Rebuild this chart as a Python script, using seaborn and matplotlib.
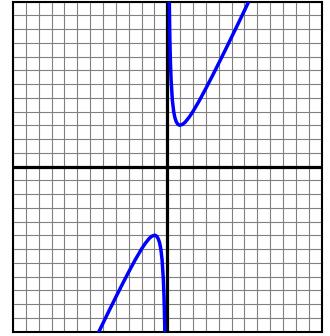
import matplotlib
matplotlib.use('Agg')
import matplotlib.pyplot as plt
import seaborn as sns
import numpy as np
import pandas as pd

# right branch (x > 0)
x_right = [0.15, 0.2, 0.25, 0.3, 0.4, 0.5, 0.6, 0.7, 0.8, 0.9, 1.0, 1.2, 1.4,
           1.7, 2.0, 2.5, 3.0, 3.5, 4.0, 4.5, 5.0, 5.5, 6.0, 6.5]
y_right = [12.63, 9.4, 7.5, 6.27, 4.8, 4.0, 3.53, 3.26, 3.1, 3.02, 3.0, 3.07, 3.23,
           3.58, 4.0, 4.8, 5.67, 6.57, 7.5, 8.44, 9.4, 10.36, 11.33, 12.31]

# left branch (x < 0)
x_left = [-5.5, -5.0, -4.5, -4.0, -3.5, -3.0, -2.5, -2.0, -1.7, -1.4, -1.2, -1.0,
          -0.9, -0.8, -0.7, -0.6, -0.5, -0.4, -0.3, -0.25, -0.2, -0.15]
y_left = [-12.36, -11.4, -10.44, -9.5, -8.57, -7.67, -6.8, -6.0, -5.58, -5.23, -5.07, -5.0,
          -5.02, -5.1, -5.26, -5.53, -6.0, -6.8, -8.27, -9.5, -11.4, -14.63]

x_min, x_max = -12, 12
y_min, y_max = -12, 12

sns.set_theme(style='white')

fig = plt.figure(figsize=(3.3, 3.36), dpi=100)
ax = fig.add_axes([13 / 330, 4.5 / 336, 308.5 / 330, 330 / 336])

df_r = pd.DataFrame({'x': x_right, 'y': y_right})
df_l = pd.DataFrame({'x': x_left, 'y': y_left})
sns.lineplot(data=df_r, x='x', y='y', color='#0000ff', linewidth=2.5, ax=ax, zorder=4, sort=False)
sns.lineplot(data=df_l, x='x', y='y', color='#0000ff', linewidth=2.5, ax=ax, zorder=4, sort=False)

ax.axhline(0, color='black', linewidth=2.3, zorder=3)
ax.axvline(0, color='black', linewidth=2.3, zorder=3)

# grid paper, one line per unit
ax.set_xlim(x_min, x_max)
ax.set_ylim(y_min, y_max)
ax.set_xticks(np.arange(x_min, x_max + 1, 1))
ax.set_yticks(np.arange(y_min, y_max + 1, 1))
ax.grid(True, which='major', color='#808080', linewidth=0.8)
ax.tick_params(length=0, labelbottom=False, labelleft=False)
ax.set_xlabel('')
ax.set_ylabel('')
for s in ax.spines.values():
    s.set_color('black')
    s.set_linewidth(1.5)

fig.savefig('out.png', dpi=100)
